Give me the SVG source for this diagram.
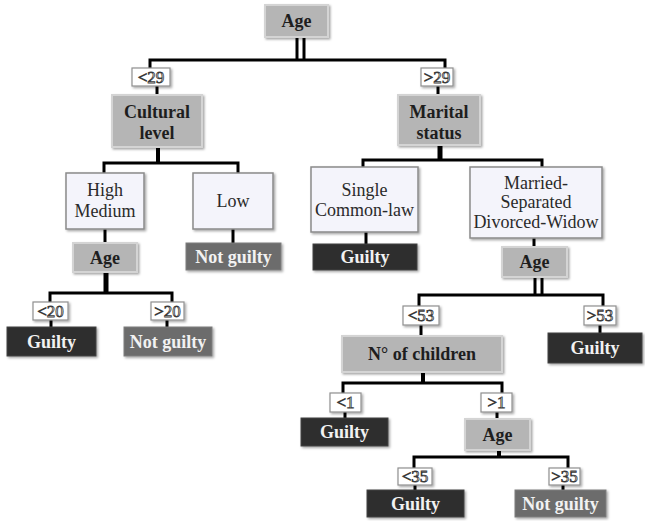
<svg xmlns="http://www.w3.org/2000/svg" width="645" height="521" viewBox="0 0 645 521" font-family="'Liberation Serif', 'DejaVu Serif', serif">
<defs>
<filter id="sh" x="-10%" y="-10%" width="125%" height="135%">
<feDropShadow dx="1.5" dy="1.5" stdDeviation="1" flood-color="#000" flood-opacity="0.35"/>
</filter>
</defs>
<style>
.dec{fill:#b5b5b5;stroke:#d4d4d4;stroke-width:2;filter:url(#sh)}
.cat{fill:#f4f4fb;stroke:#8a8a8a;stroke-width:1.5;filter:url(#sh)}
.lab{fill:#ffffff;stroke:#8f8f8f;stroke-width:1.2;filter:url(#sh)}
.gui{fill:#2f2f2f;stroke:#444;stroke-width:1;filter:url(#sh)}
.ng{fill:#6c6c6c;stroke:#7c7c7c;stroke-width:1;filter:url(#sh)}
text{font-family:'Liberation Serif','DejaVu Serif',serif;font-size:18px;text-anchor:middle}
.b{font-weight:bold;fill:#1e1e1e}
.w{font-weight:bold;fill:#f2f2f2}
.r{fill:#2a2a2a}
.l{font-size:17px;fill:#e8e8e8;stroke:#3a3a3a;stroke-width:0.8}
#conn line{stroke:#000;stroke-width:3;fill:none}
#conn polyline{stroke:#000;stroke-width:3;fill:none}
</style>
<g id="conn">
<line x1="297" y1="37" x2="297" y2="60"/>
<line x1="304" y1="37" x2="304" y2="60"/>
<polyline points="150,69 150,60 445,60 445,69"/>
<line x1="157" y1="86" x2="157" y2="95"/>
<line x1="438" y1="86" x2="438" y2="95"/>
<line x1="158" y1="147" x2="158" y2="163" style="stroke-width:4"/>
<polyline points="104,173 104,163 238,163 238,173"/>
<line x1="105" y1="229" x2="105" y2="243"/>
<line x1="233" y1="229" x2="233" y2="243"/>
<line x1="106" y1="272" x2="106" y2="293" style="stroke-width:5"/>
<polyline points="50,302 50,293 172,293 172,302"/>
<line x1="51" y1="320" x2="51" y2="327"/>
<line x1="167" y1="320" x2="167" y2="327"/>
<line x1="440" y1="145" x2="440" y2="160" style="stroke-width:5"/>
<polyline points="363,167 363,160 542,160 542,167"/>
<line x1="366" y1="232" x2="366" y2="244"/>
<line x1="534" y1="238" x2="534" y2="247"/>
<line x1="535" y1="277" x2="535" y2="295"/>
<line x1="542" y1="277" x2="542" y2="295"/>
<polyline points="419,306 419,295 603,295 603,306"/>
<line x1="421" y1="325" x2="421" y2="336"/>
<line x1="600" y1="325" x2="600" y2="333"/>
<line x1="423" y1="372" x2="423" y2="383" style="stroke-width:4"/>
<polyline points="343,393 343,383 502,383 502,393"/>
<line x1="345" y1="412" x2="345" y2="418"/>
<line x1="497" y1="412" x2="497" y2="419"/>
<line x1="499" y1="450" x2="499" y2="457" style="stroke-width:4"/>
<polyline points="414,468 414,457 568,457 568,468"/>
<line x1="415" y1="485" x2="415" y2="490"/>
<line x1="563" y1="485" x2="563" y2="490"/>
</g>
<g id="age-root"><rect class="dec" x="265" y="5" width="63" height="32"/><text class="b" x="296.5" y="27">Age</text></g>
<g id="lab-lt29"><rect class="lab" x="132" y="68" width="38" height="18"/><text class="l" x="151" y="83">&lt;29</text></g>
<g id="lab-gt29"><rect class="lab" x="421" y="68" width="32" height="18"/><text class="l" x="437" y="83">&gt;29</text></g>
<g id="cultural"><rect class="dec" x="112" y="95" width="90" height="52"/><text class="b" x="157" y="118">Cultural</text><text class="b" x="157" y="139">level</text></g>
<g id="marital"><rect class="dec" x="398" y="95" width="82" height="50"/><text class="b" x="439" y="118">Marital</text><text class="b" x="439" y="139">status</text></g>
<g id="highmed"><rect class="cat" x="66" y="173" width="78" height="56"/><text class="r" x="105" y="196">High</text><text class="r" x="105" y="217">Medium</text></g>
<g id="low"><rect class="cat" x="193" y="173" width="80" height="56"/><text class="r" x="233" y="207">Low</text></g>
<g id="age-l"><rect class="dec" x="73" y="243" width="64" height="29"/><text class="b" x="105" y="264">Age</text></g>
<g id="ng-low"><rect class="ng" x="186" y="243" width="95" height="27"/><text class="w" x="233.5" y="263">Not guilty</text></g>
<g id="lab-lt20"><rect class="lab" x="33" y="302" width="35" height="18"/><text class="l" x="50.5" y="317">&lt;20</text></g>
<g id="lab-gt20"><rect class="lab" x="151" y="302" width="33" height="18"/><text class="l" x="167.5" y="317">&gt;20</text></g>
<g id="guilty-lt20"><rect class="gui" x="7" y="327" width="89" height="29"/><text class="w" x="51.5" y="348">Guilty</text></g>
<g id="ng-gt20"><rect class="ng" x="124" y="327" width="88" height="29"/><text class="w" x="168" y="348">Not guilty</text></g>
<g id="single"><rect class="cat" x="311" y="167" width="107" height="65"/><text class="r" x="364.5" y="196">Single</text><text class="r" x="364.5" y="216">Common-law</text></g>
<g id="married"><rect class="cat" x="470" y="167" width="132" height="71"/><text class="r" x="536" y="189">Married-</text><text class="r" x="536" y="208">Separated</text><text class="r" x="536" y="228">Divorced-Widow</text></g>
<g id="guilty-single"><rect class="gui" x="313" y="244" width="104" height="26"/><text class="w" x="365" y="263">Guilty</text></g>
<g id="age-m"><rect class="dec" x="502" y="247" width="65" height="30"/><text class="b" x="534.5" y="268">Age</text></g>
<g id="lab-lt53"><rect class="lab" x="403" y="306" width="36" height="19"/><text class="l" x="421" y="321">&lt;53</text></g>
<g id="lab-gt53"><rect class="lab" x="584" y="306" width="32" height="19"/><text class="l" x="600" y="321">&gt;53</text></g>
<g id="children"><rect class="dec" x="342" y="336" width="160" height="36"/><text class="b" x="422" y="360">N° of children</text></g>
<g id="guilty-gt53"><rect class="gui" x="548" y="333" width="94" height="30"/><text class="w" x="595" y="354">Guilty</text></g>
<g id="lab-lt1"><rect class="lab" x="330" y="393" width="31" height="19"/><text class="l" x="345.5" y="408">&lt;1</text></g>
<g id="lab-gt1"><rect class="lab" x="481" y="393" width="31" height="19"/><text class="l" x="496.5" y="408">&gt;1</text></g>
<g id="guilty-lt1"><rect class="gui" x="301" y="418" width="87" height="28"/><text class="w" x="344.5" y="438">Guilty</text></g>
<g id="age-c"><rect class="dec" x="465" y="419" width="65" height="31"/><text class="b" x="497.5" y="441">Age</text></g>
<g id="lab-lt35"><rect class="lab" x="398" y="468" width="34" height="17"/><text class="l" x="415" y="482">&lt;35</text></g>
<g id="lab-gt35"><rect class="lab" x="549" y="468" width="31" height="17"/><text class="l" x="564.5" y="482">&gt;35</text></g>
<g id="guilty-lt35"><rect class="gui" x="367" y="490" width="97" height="27"/><text class="w" x="415.5" y="510">Guilty</text></g>
<g id="ng-gt35"><rect class="ng" x="515" y="490" width="91" height="27"/><text class="w" x="560.5" y="510">Not guilty</text></g>
</svg>
